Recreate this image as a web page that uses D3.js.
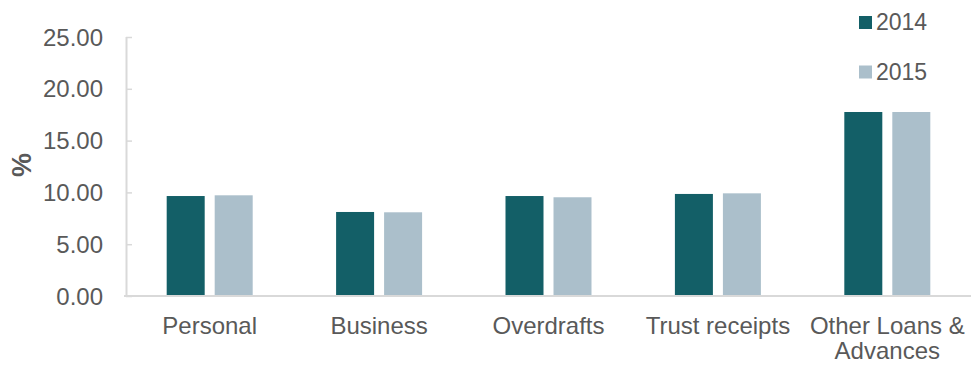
<!DOCTYPE html>
<html>
<head>
<meta charset="utf-8">
<script src="https://cdn.jsdelivr.net/npm/d3@7"></script>
<style>
  html, body { margin: 0; padding: 0; background: #fff; }
  svg { display: block; font-family: "Liberation Sans", Arial, sans-serif; }
</style>
</head>
<body>
<svg id="chart" width="971" height="365"></svg>
<script>
// Loan categories and yearly rates (%)
const categories = ["Personal", "Business", "Overdrafts", "Trust receipts", "Other Loans & Advances"];
const years = ["2014", "2015"];
const values2014 = [9.65, 8.11, 9.65, 9.85, 17.76];
const values2015 = [9.72, 8.08, 9.53, 9.91, 17.76];
const yTicks = [0, 5, 10, 15, 20, 25];
const colors = ["#135f67", "#abbfcb"];

const svg = d3.select("#chart");
const textColor = "#595959";
const axisColor = "#d9d9d9";

const plotLeft = 126, plotRight = 972, plotTop = 37, plotBottom = 296;

const y = d3.scaleLinear().domain([0, 25]).range([plotBottom, plotTop]);

const x0 = d3.scaleBand().domain(categories).range([plotLeft - 1, plotRight])
  .paddingInner(0.4923).paddingOuter(0.2461);
const x1 = d3.scaleBand().domain(years).range([0, 86]).paddingInner(10 / 48);

const series = [values2014, values2015];

// Bars
const groups = svg.append("g").selectAll("g")
  .data(categories)
  .join("g")
  .attr("transform", d => `translate(${x0(d) + (x0.bandwidth() - 86) / 2},0)`);

groups.selectAll("rect")
  .data((d, i) => years.map((yr, k) => ({ yr, v: series[k][i], k })))
  .join("rect")
  .attr("x", d => x1(d.yr))
  .attr("width", x1.bandwidth())
  .attr("y", d => y(d.v))
  .attr("height", d => y(0) - y(d.v))
  .attr("fill", d => colors[d.k]);

// Y axis with inward ticks
const yAxis = svg.append("g")
  .attr("transform", `translate(${plotLeft},0)`)
  .call(d3.axisRight(y).tickValues(yTicks).tickSize(6).tickFormat(""));
yAxis.select(".domain").attr("stroke", axisColor).attr("stroke-width", 2)
  .attr("d", `M0.5,${plotTop}V${plotBottom}`);
yAxis.selectAll(".tick line").attr("stroke", axisColor).attr("stroke-width", 1.5);

// Y tick labels
svg.append("g").selectAll("text")
  .data(yTicks)
  .join("text")
  .attr("x", 103)
  .attr("y", d => y(d))
  .attr("dy", "0.36em")
  .attr("text-anchor", "end")
  .attr("fill", textColor)
  .attr("font-size", 24)
  .text(d => d3.format(".2f")(d));

// X axis baseline
const xAxis = svg.append("g")
  .attr("transform", `translate(0,${plotBottom})`)
  .call(d3.axisBottom(x0).tickSize(0).tickFormat(""));
xAxis.select(".domain").attr("stroke", axisColor).attr("stroke-width", 2)
  .attr("d", `M${plotLeft - 2},0H971`);

// Category labels (wrapped where needed)
const labelLines = {
  "Other Loans & Advances": ["Other Loans &", "Advances"]
};
const labels = svg.append("g").selectAll("text")
  .data(categories)
  .join("text")
  .attr("x", d => x0(d) + x0.bandwidth() / 2)
  .attr("y", 334)
  .attr("text-anchor", "middle")
  .attr("fill", textColor)
  .attr("font-size", 24);
labels.each(function (d) {
  const lines = labelLines[d] || [d];
  const t = d3.select(this);
  lines.forEach((ln, i) => {
    t.append("tspan")
      .attr("x", x0(d) + x0.bandwidth() / 2)
      .attr("dy", i === 0 ? 0 : 25)
      .text(ln);
  });
});

// Y axis title
svg.append("text")
  .attr("transform", "translate(31,165) rotate(-90)")
  .attr("text-anchor", "middle")
  .attr("fill", textColor)
  .attr("font-size", 27)
  .attr("font-weight", "bold")
  .text("%");

// Legend
const legend = svg.append("g").selectAll("g")
  .data(years)
  .join("g")
  .attr("transform", (d, i) => `translate(859,${16 + i * 49.5})`);
legend.append("rect")
  .attr("width", 13).attr("height", 13)
  .attr("fill", (d, i) => colors[i]);
legend.append("text")
  .attr("x", 17)
  .attr("y", 14)
  .attr("fill", textColor)
  .attr("font-size", 23)
  .text(d => d);
</script>
</body>
</html>
